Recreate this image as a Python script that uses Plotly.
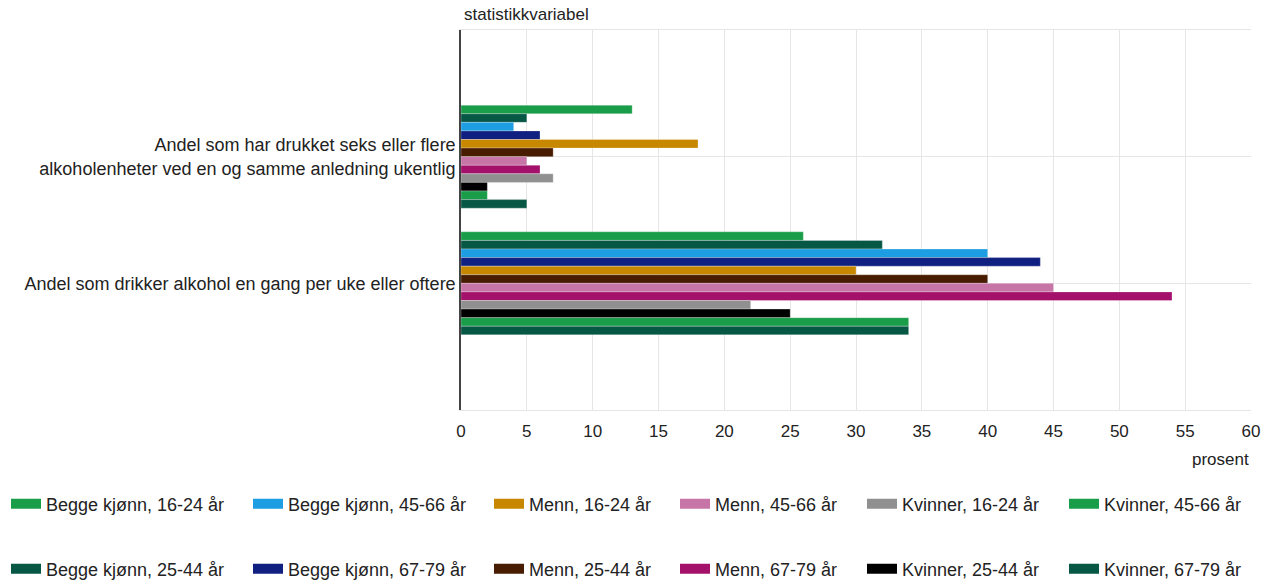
import plotly.graph_objects as go

categories = [
    "Andel som har drukket seks eller flere<br>alkoholenheter ved en og samme anledning ukentlig",
    "Andel som drikker alkohol en gang per uke eller oftere",
]

series_names = [
    "Begge kjønn, 16-24 år",
    "Begge kjønn, 25-44 år",
    "Begge kjønn, 45-66 år",
    "Begge kjønn, 67-79 år",
    "Menn, 16-24 år",
    "Menn, 25-44 år",
    "Menn, 45-66 år",
    "Menn, 67-79 år",
    "Kvinner, 16-24 år",
    "Kvinner, 25-44 år",
    "Kvinner, 45-66 år",
    "Kvinner, 67-79 år",
]

# values per series: [seks eller flere enheter ukentlig, drikker ukentlig eller oftere]
values_begge_16_24 = [13, 26]
values_begge_25_44 = [5, 32]
values_begge_45_66 = [4, 40]
values_begge_67_79 = [6, 44]
values_menn_16_24 = [18, 30]
values_menn_25_44 = [7, 40]
values_menn_45_66 = [5, 45]
values_menn_67_79 = [6, 54]
values_kvinner_16_24 = [7, 22]
values_kvinner_25_44 = [2, 25]
values_kvinner_45_66 = [2, 34]
values_kvinner_67_79 = [5, 34]

series_values = [
    values_begge_16_24, values_begge_25_44, values_begge_45_66, values_begge_67_79,
    values_menn_16_24, values_menn_25_44, values_menn_45_66, values_menn_67_79,
    values_kvinner_16_24, values_kvinner_25_44, values_kvinner_45_66, values_kvinner_67_79,
]

colors = [
    "#1a9d49", "#075745", "#1d9de2", "#0f2080",
    "#c78800", "#471c00", "#c775a7", "#a3116b",
    "#909090", "#000000", "#1a9d49", "#075745",
]

x_ticks = [0, 5, 10, 15, 20, 25, 30, 35, 40, 45, 50, 55, 60]

FONT = "Liberation Sans, Arial, sans-serif"
TXT = "#222222"
W, H = 1274, 583

# legend layout (column left edges in px, row centers in px)
legend_cols_px = [11, 253, 494, 680, 867, 1069]
legend_rows_px = [504, 569]

fig = go.Figure()
for i, (name, vals, col) in enumerate(zip(series_names, series_values, colors)):
    fig.add_trace(go.Bar(
        y=categories, x=vals, name=name, orientation="h",
        marker=dict(color=col, line=dict(color="rgba(255,255,255,0.45)", width=0.6)),
        showlegend=False,
    ))

legend_layouts = {}
for i, (name, col) in enumerate(zip(series_names, colors)):
    lname = "legend" if i == 0 else f"legend{i + 1}"
    fig.add_trace(go.Scatter(
        x=[None], y=[None], mode="lines", name=name,
        line=dict(color=col, width=10), legend=lname, showlegend=True,
        hoverinfo="skip",
    ))
    c, r = i // 2, i % 2
    legend_layouts[lname] = dict(
        x=(legend_cols_px[c] - 5) / W, xref="container", xanchor="left",
        y=1 - legend_rows_px[r] / H, yref="container", yanchor="middle",
        font=dict(family=FONT, size=18, color=TXT),
        bgcolor="rgba(0,0,0,0)", borderwidth=0,
        orientation="v",
    )

fig.update_layout(
    width=W, height=H,
    margin=dict(l=461, r=23, t=30, b=173, autoexpand=False),
    paper_bgcolor="white", plot_bgcolor="white",
    barmode="group", bargap=0.187, bargroupgap=0,
    font=dict(family=FONT, size=17, color=TXT),
    xaxis=dict(
        range=[0, 60], tickvals=x_ticks, ticktext=[str(v) for v in x_ticks],
        showgrid=True, gridcolor="#e6e6e6", gridwidth=1, zeroline=False,
        showline=True, linecolor="#e6e6e6", linewidth=1, mirror=True,
        ticks="outside", ticklen=6, tickcolor="rgba(0,0,0,0)",
        tickfont=dict(family=FONT, size=17, color=TXT),
    ),
    yaxis=dict(
        type="category", categoryorder="array", categoryarray=categories,
        range=[2, -1], showgrid=True, gridcolor="#e6e6e6", gridwidth=1,
        showline=True, linecolor="#444444", linewidth=1.5, zeroline=False,
        ticks="", ticklen=0,
        tickfont=dict(family=FONT, size=18, color=TXT),
    ),
    annotations=[
        dict(text="statistikkvariabel", xref="paper", yref="paper", x=0, y=1,
             xanchor="left", yanchor="bottom", yshift=4, xshift=1, showarrow=False,
             font=dict(family=FONT, size=17, color=TXT)),
        dict(text="prosent", xref="paper", yref="paper", x=1, y=0,
             xanchor="right", yanchor="top", yshift=-38, showarrow=False,
             font=dict(family=FONT, size=17, color=TXT)),
    ],
    **legend_layouts,
)

fig.write_html("out.html")
